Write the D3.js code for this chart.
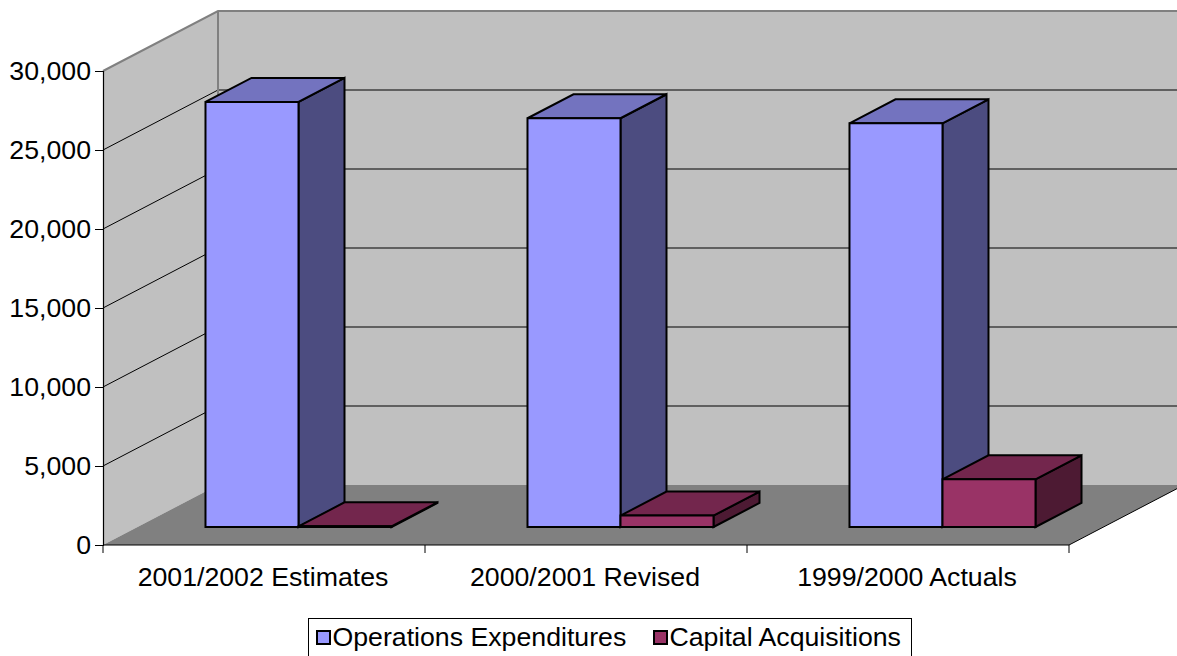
<!DOCTYPE html>
<html>
<head>
<meta charset="utf-8">
<script src="https://cdnjs.cloudflare.com/ajax/libs/d3/7.8.5/d3.min.js"></script>
<style>
  html, body { margin: 0; padding: 0; background: #ffffff; }
  svg { display: block; }
  text { font-family: "Liberation Sans", Arial, sans-serif; fill: #000; }
</style>
</head>
<body>
<svg id="chart" width="1177" height="656"></svg>
<script>
// Budget figures by fiscal period
const categories = ["2001/2002 Estimates", "2000/2001 Revised", "1999/2000 Actuals"];
const seriesNames = ["Operations Expenditures", "Capital Acquisitions"];
const operations = [26900, 25870, 25550];
const capital = [40, 720, 3020];
const yTicks = [0, 5000, 10000, 15000, 20000, 25000, 30000];

const colors = {
  "Operations Expenditures": { front: "#9999FF", top: "#7373BF", side: "#4C4C80" },
  "Capital Acquisitions":    { front: "#993366", top: "#73264D", side: "#4D1A33" }
};

const rows = categories.map((c, i) => ({
  category: c,
  values: [
    { series: seriesNames[0], value: operations[i] },
    { series: seriesNames[1], value: capital[i] }
  ]
}));

const svg = d3.select("#chart");
const W = 1177;
const fontSize = "26.7px";

// Front plane geometry and depth projection
const left = 103, right = 1069, base = 545, topY = 71;
const depthDx = 115, depthDy = -60;
const barDepth0 = 0.3, barDepth1 = 0.7;

const y = d3.scaleLinear().domain([0, 30000]).range([base, topY]);
const x0 = d3.scaleBand().domain(categories).range([left, right]);
const x1 = d3.scaleBand().domain(seriesNames).range([0, x0.bandwidth()])
  .paddingInner(0).paddingOuter(0.731);

// project a point (screen x at front plane, value, depth fraction) to screen
const P = (x, v, d) => [x + depthDx * d, y(v) + depthDy * d];
const poly = pts => "M" + pts.map(p => p.join(",")).join("L") + "Z";

// Walls and floor
const wallFill = "#C0C0C0", wallEdge = "#808080";
const g = svg.append("g");

g.append("path") // back wall
  .attr("d", poly([P(left, 30000, 1), [W + 20, y(30000) + depthDy], [W + 20, y(0) + depthDy], P(left, 0, 1)]))
  .attr("fill", wallFill).attr("stroke", "none");
g.append("path") // side wall
  .attr("d", poly([P(left, 0, 0), P(left, 30000, 0), P(left, 30000, 1), P(left, 0, 1)]))
  .attr("fill", wallFill).attr("stroke", "none");
g.append("path") // floor
  .attr("d", poly([P(left, 0, 0), P(right, 0, 0), P(right, 0, 1), P(left, 0, 1)]))
  .attr("fill", "#808080").attr("stroke", "none");

// Gridlines on side and back walls
const grid = yTicks.filter(t => t > 0 && t < 30000);
g.selectAll(".gside").data(grid).join("line")
  .attr("x1", d => P(left, d, 0)[0]).attr("y1", d => P(left, d, 0)[1])
  .attr("x2", d => P(left, d, 1)[0]).attr("y2", d => P(left, d, 1)[1])
  .attr("stroke", "#000").attr("stroke-width", 1);
g.selectAll(".gback").data(grid).join("line")
  .attr("x1", d => P(left, d, 1)[0]).attr("y1", d => P(left, d, 1)[1])
  .attr("x2", W + 20).attr("y2", d => P(left, d, 1)[1])
  .attr("stroke", "#000").attr("stroke-width", 1);

// Wall edges
g.append("path")
  .attr("d", "M" + P(left, 30000, 0).join(",") + "L" + P(left, 30000, 1).join(",") +
    "L" + [W + 20, y(30000) + depthDy].join(","))
  .attr("fill", "none").attr("stroke", wallEdge).attr("stroke-width", 2);
g.append("line")
  .attr("x1", P(left, 30000, 1)[0]).attr("y1", P(left, 30000, 1)[1])
  .attr("x2", P(left, 0, 1)[0]).attr("y2", P(left, 0, 1)[1])
  .attr("stroke", wallEdge).attr("stroke-width", 2);
// floor right edge
g.append("line")
  .attr("x1", P(right, 0, 0)[0]).attr("y1", P(right, 0, 0)[1])
  .attr("x2", P(right, 0, 1)[0]).attr("y2", P(right, 0, 1)[1])
  .attr("stroke", "#000").attr("stroke-width", 1);

// Axes
const yAxis = d3.axisLeft(y).tickValues(yTicks).tickSize(8).tickPadding(4)
  .tickFormat(d3.format(","));
const ya = svg.append("g").attr("transform", `translate(${left},0)`).call(yAxis);
ya.select(".domain").attr("stroke", "#000").attr("stroke-width", 1.2);
ya.selectAll(".tick line").attr("stroke", "#000");
ya.selectAll("text").style("font-size", fontSize).attr("font-family", "Liberation Sans, Arial, sans-serif");

const xa = svg.append("g").attr("transform", `translate(0,${base})`);
xa.append("line").attr("x1", left).attr("x2", right).attr("stroke", "#000").attr("stroke-width", 1.2);
const tickXs = categories.map(c => x0(c)).concat([right]);
xa.selectAll(".xt").data(tickXs).join("line")
  .attr("x1", d => d).attr("x2", d => d).attr("y1", 0).attr("y2", 8)
  .attr("stroke", "#000");
xa.selectAll(".xl").data(categories).join("text")
  .attr("x", d => x0(d) + x0.bandwidth() / 2 - 1)
  .attr("y", 41)
  .attr("text-anchor", "middle")
  .style("font-size", fontSize)
  .text(d => d);

// 3D columns: front, top and right side faces, drawn left to right
const bars = svg.append("g");
rows.forEach(r => {
  r.values.forEach(v => {
    const xl = x0(r.category) + x1(v.series);
    const xr = xl + x1.bandwidth();
    const c = colors[v.series];
    const bg = bars.append("g")
      .attr("stroke", "#000").attr("stroke-width", 2).attr("stroke-linejoin", "miter");
    bg.append("path").attr("fill", c.side)
      .attr("d", poly([P(xr, 0, barDepth0), P(xr, v.value, barDepth0), P(xr, v.value, barDepth1), P(xr, 0, barDepth1)]));
    bg.append("path").attr("fill", c.top)
      .attr("d", poly([P(xl, v.value, barDepth0), P(xr, v.value, barDepth0), P(xr, v.value, barDepth1), P(xl, v.value, barDepth1)]));
    bg.append("path").attr("fill", c.front)
      .attr("d", poly([P(xl, 0, barDepth0), P(xr, 0, barDepth0), P(xr, v.value, barDepth0), P(xl, v.value, barDepth0)]));
  });
});

// Legend
const lg = svg.append("g");
lg.append("rect").attr("x", 308.5).attr("y", 618.5).attr("width", 603).attr("height", 50)
  .attr("fill", "#fff").attr("stroke", "#000").attr("stroke-width", 1);
const legendX = [317, 654];
seriesNames.forEach((s, i) => {
  lg.append("rect").attr("x", legendX[i]).attr("y", 631).attr("width", 13).attr("height", 13)
    .attr("fill", colors[s].front).attr("stroke", "#000").attr("stroke-width", 2);
  lg.append("text").attr("x", legendX[i] + 15.5).attr("y", 646)
    .style("font-size", fontSize).text(s);
});
</script>
</body>
</html>
